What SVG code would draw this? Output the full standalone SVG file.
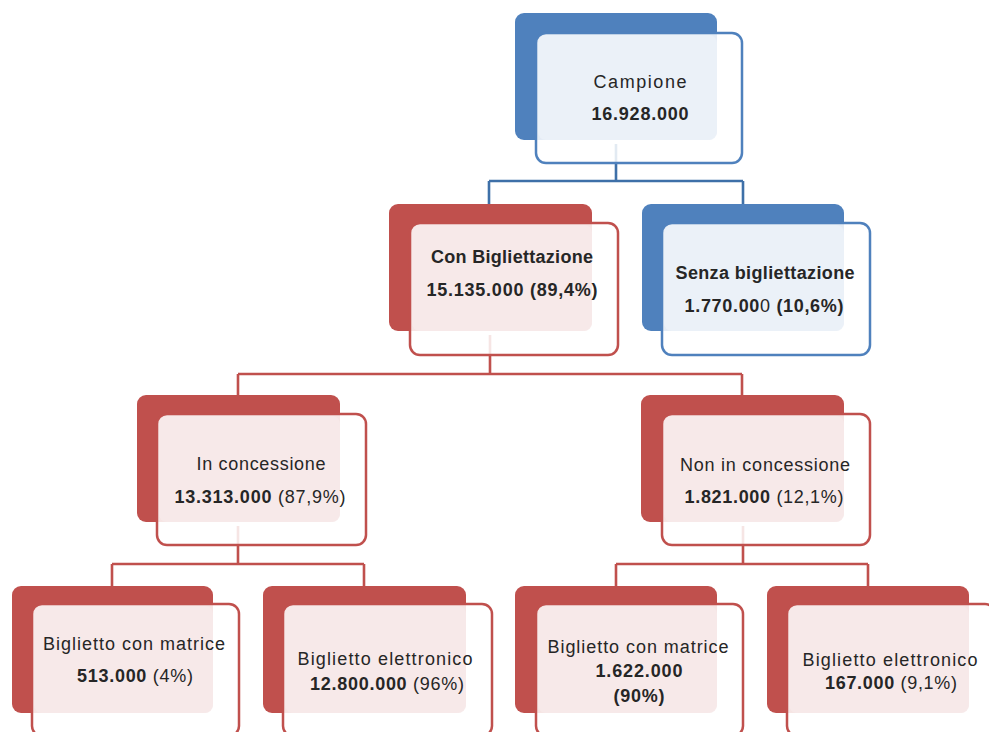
<svg xmlns="http://www.w3.org/2000/svg" width="989" height="732" viewBox="0 0 989 732">
<style>
text{font-family:"Liberation Sans",Arial,sans-serif;font-size:18px;fill:#262626;text-anchor:middle}
.b{font-weight:bold}
.n{font-weight:normal}
.conn path{fill:none;stroke-width:2.6}
.cb{stroke:#3E70A8}
.cr{stroke:#C0504D}
.rb{fill:#C0504D}
.ro{fill:#FFFFFF;fill-opacity:0.85;stroke:#C0504D;stroke-width:2.5}
.rl{fill:#F6EAEA;fill-opacity:0.93}
.bb{fill:#4F81BD}
.bo{fill:#FFFFFF;fill-opacity:0.85;stroke:#4F81BD;stroke-width:2.5}
.bl{fill:#ECF1F8;fill-opacity:0.93}
</style>
<rect width="989" height="732" fill="#FFFFFF"/>
<g id="connectors" class="conn">
<path class="cb" d="M616,144 V181 M489,181 H743 M489,181 V204 M743,181 V204"/>
<path class="cr" d="M490,335 V374 M238,374 H742 M238,374 V395 M742,374 V395"/>
<path class="cr" d="M238,526 V564 M112,564 H364 M112,564 V586 M364,564 V586"/>
<path class="cr" d="M743,526 V564 M616,564 H868 M616,564 V586 M868,564 V586"/>
</g>
<g id="campione">
<rect class="bb" x="515" y="13" width="202" height="127" rx="9"/>
<rect class="bo" x="536" y="33" width="206" height="130" rx="10"/>
<rect class="bl" x="538" y="35" width="179" height="105" rx="8"/>
<text x="640" y="88" textLength="93">Campione</text>
<text class="b" x="640" y="120" textLength="97">16.928.000</text>
</g>
<g id="con-bigliettazione">
<rect class="rb" x="389" y="204" width="203" height="127" rx="9"/>
<rect class="ro" x="410" y="223" width="208" height="132" rx="10"/>
<rect class="rl" x="412" y="225" width="180" height="106" rx="8"/>
<text class="b" x="512" y="263" textLength="162">Con Bigliettazione</text>
<text x="512" y="296" textLength="171"><tspan class="b">15.135.000 </tspan><tspan class="b">(89,4%)</tspan></text>
</g>
<g id="senza-bigliettazione">
<rect class="bb" x="642" y="204" width="202" height="127" rx="9"/>
<rect class="bo" x="662" y="223" width="208" height="132" rx="10"/>
<rect class="bl" x="664" y="225" width="180" height="106" rx="8"/>
<text class="b" x="765" y="279" textLength="179">Senza bigliettazione</text>
<text x="764" y="312" textLength="159"><tspan class="b">1.770.00</tspan><tspan class="n">0</tspan><tspan class="b"> (10,6%)</tspan></text>
</g>
<g id="in-concessione">
<rect class="rb" x="137" y="395" width="203" height="127" rx="9"/>
<rect class="ro" x="157" y="414" width="209" height="131" rx="10"/>
<rect class="rl" x="159" y="416" width="181" height="106" rx="8"/>
<text x="261" y="470" textLength="129">In concessione</text>
<text x="260" y="503" textLength="171"><tspan class="b">13.313.000 </tspan><tspan class="n">(87,9%)</tspan></text>
</g>
<g id="non-in-concessione">
<rect class="rb" x="641" y="395" width="203" height="127" rx="9"/>
<rect class="ro" x="662" y="414" width="208" height="131" rx="10"/>
<rect class="rl" x="664" y="416" width="180" height="106" rx="8"/>
<text x="765" y="471" textLength="170">Non in concessione</text>
<text x="764" y="503" textLength="159"><tspan class="b">1.821.000 </tspan><tspan class="n">(12,1%)</tspan></text>
</g>
<g id="biglietto-matrice-1">
<rect class="rb" x="12" y="586" width="201" height="127" rx="9"/>
<rect class="ro" x="32" y="604" width="207" height="132" rx="10"/>
<rect class="rl" x="34" y="606" width="179" height="107" rx="8"/>
<text x="134" y="650" textLength="182">Biglietto con matrice</text>
<text x="135" y="682" textLength="116"><tspan class="b">513.000 </tspan><tspan class="n">(4%)</tspan></text>
</g>
<g id="biglietto-elettronico-1">
<rect class="rb" x="263" y="586" width="203" height="127" rx="9"/>
<rect class="ro" x="283" y="604" width="209" height="132" rx="10"/>
<rect class="rl" x="285" y="606" width="181" height="107" rx="8"/>
<text x="385" y="665" textLength="175">Biglietto elettronico</text>
<text x="387" y="690" textLength="154"><tspan class="b">12.800.000 </tspan><tspan class="n">(96%)</tspan></text>
</g>
<g id="biglietto-matrice-2">
<rect class="rb" x="515" y="586" width="202" height="127" rx="9"/>
<rect class="ro" x="536" y="604" width="207" height="132" rx="10"/>
<rect class="rl" x="538" y="606" width="179" height="107" rx="8"/>
<text x="638" y="653" textLength="181">Biglietto con matrice</text>
<text class="b" x="639" y="677" textLength="87">1.622.000</text>
<text class="b" x="639" y="702" textLength="51">(90%)</text>
</g>
<g id="biglietto-elettronico-2">
<rect class="rb" x="767" y="586" width="202" height="127" rx="9"/>
<rect class="ro" x="787" y="604" width="208" height="132" rx="10"/>
<rect class="rl" x="789" y="606" width="180" height="107" rx="8"/>
<text x="890" y="666" textLength="175">Biglietto elettronico</text>
<text x="891" y="689" textLength="132"><tspan class="b">167.000 </tspan><tspan class="n">(9,1%)</tspan></text>
</g>
</svg>
